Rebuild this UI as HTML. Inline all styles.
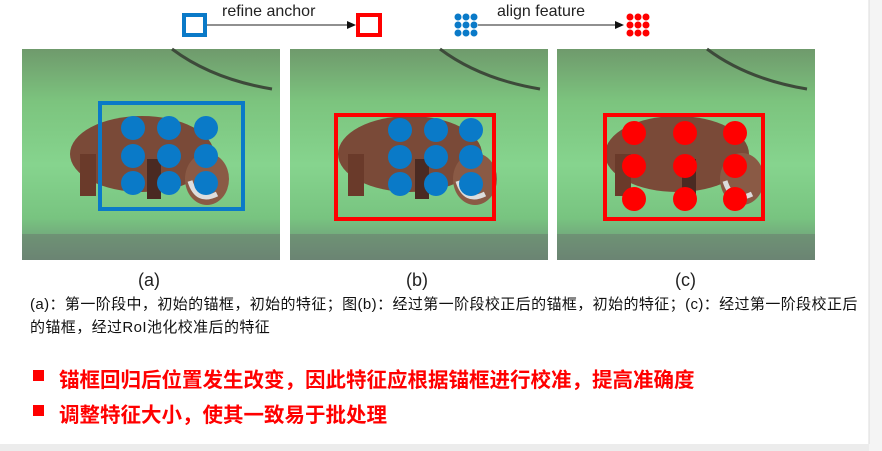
<!DOCTYPE html>
<html><head><meta charset="utf-8"><style>
body{margin:0;width:882px;height:451px;background:#fff;position:relative;overflow:hidden;font-family:"Liberation Sans","Noto Sans CJK SC",sans-serif}
.t{position:absolute;white-space:nowrap}
</style></head><body>
<svg width="882" height="451" style="position:absolute;left:0;top:0">
<defs>
<linearGradient id="g" x1="0" y1="0" x2="0" y2="1">
<stop offset="0" stop-color="#6f9a6c"/><stop offset="0.25" stop-color="#7cc47e"/><stop offset="0.55" stop-color="#86d48e"/><stop offset="0.8" stop-color="#78c480"/><stop offset="1" stop-color="#6c8a78"/></linearGradient>
<g id="photo">
<rect x="0" y="0" width="258" height="211" fill="url(#g)"/>
<path d="M150 0 Q190 30 250 40" stroke="#3d4a3a" stroke-width="3" fill="none"/>
<ellipse cx="120" cy="105" rx="72" ry="38" fill="#7a4a38"/>
<rect x="58" y="105" width="16" height="42" fill="#6a3a2a"/>
<rect x="125" y="110" width="14" height="40" fill="#4a2a22"/>
<ellipse cx="185" cy="130" rx="22" ry="26" fill="#8a5a45"/>
<path d="M168 132 Q175 155 195 145" stroke="#ddd" stroke-width="5" fill="none"/>
<rect x="0" y="185" width="258" height="26" fill="#6a8070" opacity="0.6"/>
</g>
</defs>
<use href="#photo" x="22" y="49"/>
<use href="#photo" x="290" y="49"/>
<use href="#photo" x="557" y="49"/>
<rect x="100" y="103" width="143" height="106" fill="none" stroke="#0a7ac8" stroke-width="4"/>
<g fill="#0a7ac8">
<circle cx="133" cy="128" r="12"/><circle cx="169" cy="128" r="12"/><circle cx="206" cy="128" r="12"/>
<circle cx="133" cy="156" r="12"/><circle cx="169" cy="156" r="12"/><circle cx="206" cy="156" r="12"/>
<circle cx="133" cy="183" r="12"/><circle cx="169" cy="183" r="12"/><circle cx="206" cy="183" r="12"/>
</g>
<rect x="336" y="115" width="158" height="104" fill="none" stroke="#f00" stroke-width="4"/>
<g fill="#0a7ac8">
<circle cx="400" cy="130" r="12"/><circle cx="436" cy="130" r="12"/><circle cx="471" cy="130" r="12"/>
<circle cx="400" cy="157" r="12"/><circle cx="436" cy="157" r="12"/><circle cx="471" cy="157" r="12"/>
<circle cx="400" cy="184" r="12"/><circle cx="436" cy="184" r="12"/><circle cx="471" cy="184" r="12"/>
</g>
<rect x="605" y="115" width="158" height="104" fill="none" stroke="#f00" stroke-width="4"/>
<g fill="#f00">
<circle cx="634" cy="133" r="12"/><circle cx="685" cy="133" r="12"/><circle cx="735" cy="133" r="12"/>
<circle cx="634" cy="166" r="12"/><circle cx="685" cy="166" r="12"/><circle cx="735" cy="166" r="12"/>
<circle cx="634" cy="199" r="12"/><circle cx="685" cy="199" r="12"/><circle cx="735" cy="199" r="12"/>
</g>
<rect x="184" y="15" width="21" height="20" fill="none" stroke="#0a7ac8" stroke-width="4"/>
<line x1="207" y1="25" x2="348" y2="25" stroke="#222" stroke-width="1"/>
<polygon points="356,25 347,21 347,29" fill="#111"/>
<rect x="358" y="15" width="22" height="20" fill="none" stroke="#f00" stroke-width="4"/>
<g fill="#0a7ac8">
<circle cx="458" cy="17" r="3.5"/><circle cx="466" cy="17" r="3.5"/><circle cx="474" cy="17" r="3.5"/>
<circle cx="458" cy="25" r="3.5"/><circle cx="466" cy="25" r="3.5"/><circle cx="474" cy="25" r="3.5"/>
<circle cx="458" cy="33" r="3.5"/><circle cx="466" cy="33" r="3.5"/><circle cx="474" cy="33" r="3.5"/>
</g>
<line x1="478" y1="25" x2="616" y2="25" stroke="#222" stroke-width="1"/>
<polygon points="624,25 615,21 615,29" fill="#111"/>
<g fill="#f00">
<circle cx="630" cy="17" r="3.5"/><circle cx="638" cy="17" r="3.5"/><circle cx="646" cy="17" r="3.5"/>
<circle cx="630" cy="25" r="3.5"/><circle cx="638" cy="25" r="3.5"/><circle cx="646" cy="25" r="3.5"/>
<circle cx="630" cy="33" r="3.5"/><circle cx="638" cy="33" r="3.5"/><circle cx="646" cy="33" r="3.5"/>
</g>
<rect x="0" y="444" width="882" height="7" fill="#ececec"/>
<rect x="869" y="0" width="13" height="451" fill="#f4f4f4"/>
<line x1="869" y1="0" x2="869" y2="444" stroke="#ddd"/>
<rect x="33" y="370" width="11" height="11" fill="#f00"/>
<rect x="33" y="405" width="11" height="11" fill="#f00"/>
</svg>
<div class="t" style="left:222px;top:3px;font-size:16px;color:#222">refine anchor</div>
<div class="t" style="left:497px;top:3px;font-size:16px;color:#222">align feature</div>
<div class="t" style="left:138px;top:270px;font-size:18px;color:#222">(a)</div>
<div class="t" style="left:406px;top:270px;font-size:18px;color:#222">(b)</div>
<div class="t" style="left:675px;top:270px;font-size:18px;color:#222">(c)</div>
<div class="t" style="left:30px;top:293px;font-size:15px;letter-spacing:0.4px;color:#111">(a)：第一阶段中，初始的锚框，初始的特征；图(b)：经过第一阶段校正后的锚框，初始的特征；(c)：经过第一阶段校正后</div>
<div class="t" style="left:30px;top:316px;font-size:15px;letter-spacing:0.4px;color:#111">的锚框，经过RoI池化校准后的特征</div>
<div class="t" style="left:59px;top:363px;font-size:20.5px;font-weight:bold;color:#f00">锚框回归后位置发生改变，因此特征应根据锚框进行校准，提高准确度</div>
<div class="t" style="left:59px;top:398px;font-size:20.5px;font-weight:bold;color:#f00">调整特征大小，使其一致易于批处理</div>
</body></html>
